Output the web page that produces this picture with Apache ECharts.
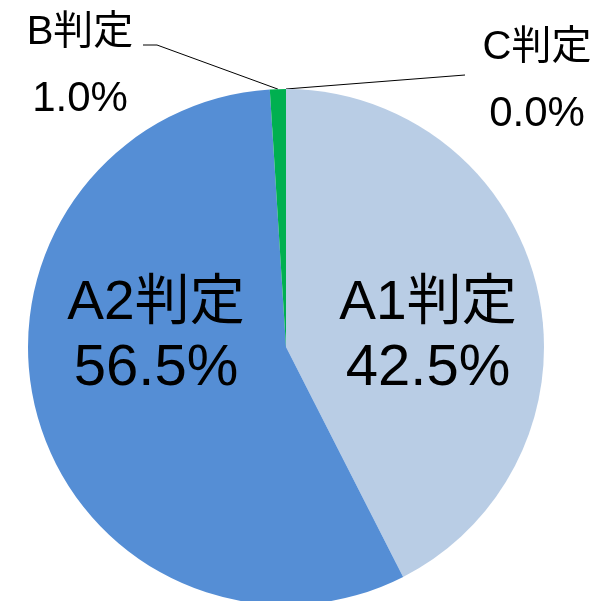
<!DOCTYPE html>
<html>
<head>
<meta charset="utf-8">
<script src="https://cdn.jsdelivr.net/npm/echarts@6/dist/echarts.min.js"></script>
<style>
  html, body { margin: 0; padding: 0; background: #fff; }
  #chart { width: 599px; height: 601px; }
</style>
</head>
<body>
<div id="chart"></div>
<script>
const names = ['A1判定', 'A2判定', 'B判定', 'C判定']
const values = [42.5, 56.5, 1.0, 0.0]
const colors = ['#b9cde5', '#558ed5', '#00b050', '#7f7f7f']

// 各ラベルの位置（Excel 風の配置）
const labelPos = [
  { x: 428, y: 336 },
  { x: 156, y: 336 },
  { x: 80, y: 66 },
  { x: 537, y: 81 },
]
const font = '"Liberation Sans", Arial, "Noto Sans CJK JP", sans-serif'
const bigRich = {
  n: { fontSize: 55, lineHeight: 65, fontFamily: font, color: '#000' },
  v: { fontSize: 58, lineHeight: 65, fontFamily: font, color: '#000' },
}
const smallRich = {
  n: { fontSize: 40, lineHeight: 66, fontFamily: font, color: '#000' },
  v: { fontSize: 42, lineHeight: 66, fontFamily: font, color: '#000' },
}

const chart = echarts.init(document.getElementById('chart'))

chart.setOption({
  backgroundColor: '#fff',
  animation: false,
  series: [
    {
      type: 'pie',
      center: [286, 347],
      radius: 258,
      startAngle: 90,
      clockwise: true,
      avoidLabelOverlap: false,
      itemStyle: { borderWidth: 0 },
      label: {
        color: '#000',
        fontFamily: font,
        formatter: (p) => `{n|${p.name}}\n{v|${p.value.toFixed(1)}%}`,
      },
      labelLine: { lineStyle: { color: '#000', width: 1 }, smooth: false },
      labelLayout: (p) => {
        const pos = labelPos[p.dataIndex]
        const out = { x: pos.x, y: pos.y, align: 'center', verticalAlign: 'middle' }
        const p0 = p.labelLinePoints ? p.labelLinePoints[0] : null
        if (p0 && p.dataIndex === 2) {
          out.labelLinePoints = [p0, [157, 45], [143, 45]]
        } else if (p0 && p.dataIndex === 3) {
          out.labelLinePoints = [p0, [465, 75]]
        }
        return out
      },
      data: names.map((n, i) => ({
        name: n,
        value: values[i],
        itemStyle: { color: colors[i] },
        label: i < 2
          ? { position: 'inside', rich: bigRich }
          : { position: 'outside', rich: smallRich },
        labelLine: { show: i >= 2 },
      })),
    },
  ],
})
</script>
</body>
</html>
